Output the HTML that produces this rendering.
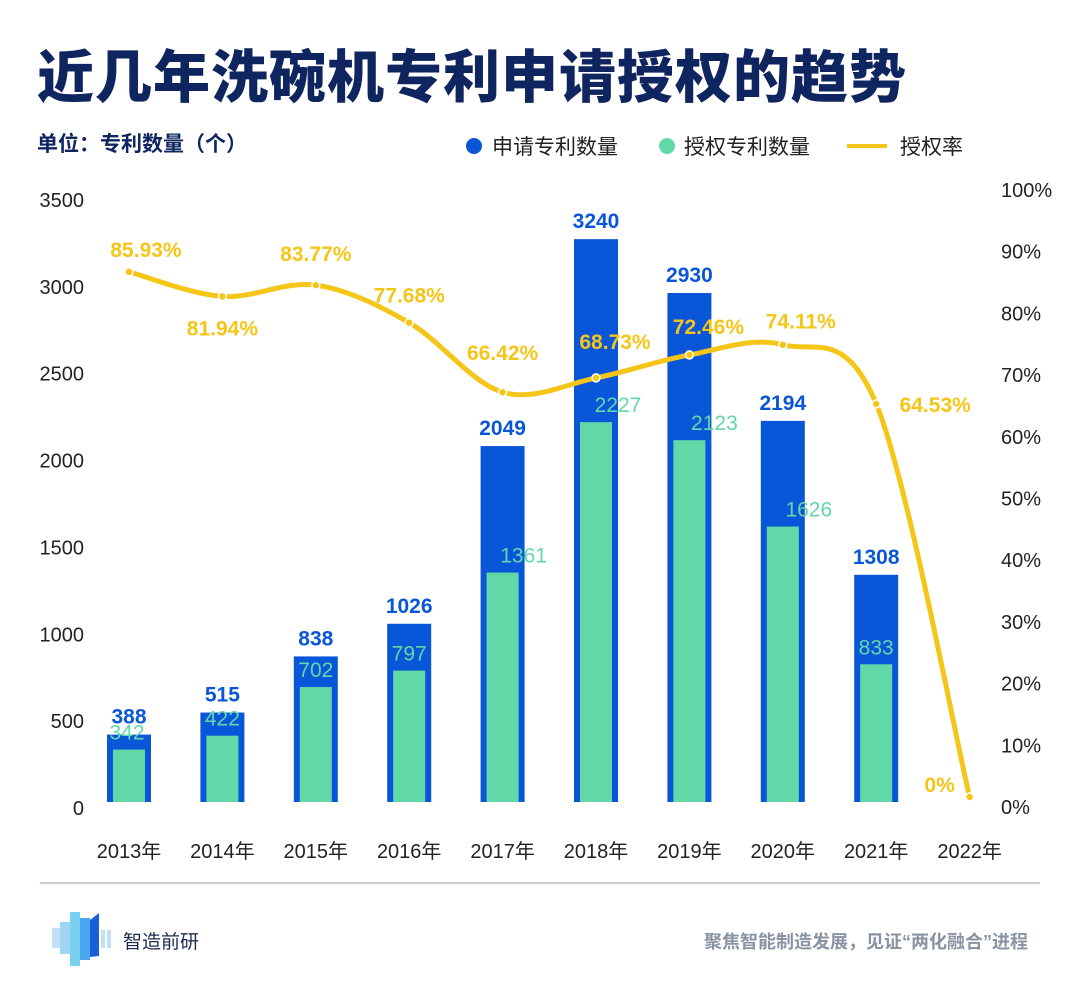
<!DOCTYPE html>
<html><head><meta charset="utf-8">
<style>
body{margin:0;background:#fff;}
#wrap{position:relative;width:1080px;height:1001px;overflow:hidden;font-family:"Liberation Sans","Noto Sans CJK SC",sans-serif;}
svg text{font-family:"Liberation Sans","Noto Sans CJK SC",sans-serif;}
</style></head>
<body>
<div id="wrap">
<svg id="chart" width="1080" height="1001">
  <text x="37" y="97" font-size="57" font-weight="900" fill="#0e2560" letter-spacing="1">近几年洗碗机专利申请授权的趋势</text>
  <text x="37" y="151" font-size="21" font-weight="bold" fill="#0e2560">单位：专利数量（个）</text>
  <g>
    <circle cx="474" cy="146" r="8" fill="#0a56d8"/>
    <text x="492" y="154" font-size="21" fill="#222">申请专利数量</text>
    <circle cx="667" cy="146" r="8" fill="#62d8a8"/>
    <text x="684" y="154" font-size="21" fill="#222">授权专利数量</text>
    <line x1="847" y1="146" x2="887" y2="146" stroke="#f5c518" stroke-width="4"/>
    <text x="900" y="154" font-size="21" fill="#222">授权率</text>
  </g>
  <g id="axes"></g>
  <g id="bars"></g>
  <g id="line"></g>
  <line x1="40" y1="883" x2="1040" y2="883" stroke="#c8ccd4" stroke-width="2"/>
  <g>
    <rect x="52" y="928" width="8" height="20" fill="#bfe0f5"/>
    <rect x="60" y="922" width="10" height="32" fill="#9fd6f2"/>
    <rect x="70" y="912" width="10" height="54" fill="#7ad0f2"/>
    <rect x="80" y="918" width="10" height="42" fill="#4aa8ee"/>
    <polygon points="90,920 99,913 99,956 90,957" fill="#1a5fd8"/>
    <rect x="101" y="930" width="4" height="18" fill="#bfe0f5"/>
    <rect x="107" y="930" width="4" height="18" fill="#bfe0f5"/>
    <text x="123" y="948" font-size="19" fill="#1b2a50">智造前研</text>
  </g>
  <text x="1028" y="948" font-size="18" font-weight="bold" fill="#8a93a6" text-anchor="end">聚焦智能制造发展，见证“两化融合”进程</text>
</svg>
</div>
<script>
const years = ["2013年","2014年","2015年","2016年","2017年","2018年","2019年","2020年","2021年","2022年"];
const applyCounts = [388,515,838,1026,2049,3240,2930,2194,1308,null];
const grantCounts = [342,422,702,797,1361,2227,2123,1626,833,null];
const grantRates = [85.93,81.94,83.77,77.68,66.42,68.73,72.46,74.11,64.53,0];
const rateLabels = ["85.93%","81.94%","83.77%","77.68%","66.42%","68.73%","72.46%","74.11%","64.53%","0%"];
const leftTicks = [0,500,1000,1500,2000,2500,3000,3500];
const rightTicks = [0,10,20,30,40,50,60,70,80,90,100];

const NS="http://www.w3.org/2000/svg";
const base=802;
const yL=v=>base-v*(608/3500);
const yR=v=>base-v*6.17;
const xC=i=>129+i*93.4;
function mk(tag,attrs,parent,text){const e=document.createElementNS(NS,tag);for(const k in attrs)e.setAttribute(k,attrs[k]);if(text!==undefined)e.textContent=text;parent.appendChild(e);return e;}
const axes=document.getElementById('axes'),bars=document.getElementById('bars'),line=document.getElementById('line');

leftTicks.forEach(v=>{const t=mk('text',{x:84,y:yL(v)+13,'font-size':20,fill:'#222','text-anchor':'end'},axes,String(v));

});
rightTicks.forEach(v=>{const t=mk('text',{x:1001,y:yR(v)+12,'font-size':20,fill:'#222'},axes,v+'%');

});
years.forEach((y,i)=>{const t=mk('text',{x:xC(i),y:858,'font-size':20,fill:'#222','text-anchor':'middle'},axes,y);

});

const grantLblDx=[-2,0,0,0,21,22,25,26,0];
applyCounts.forEach((v,i)=>{
  if(v==null)return;
  const x=xC(i);
  const b=mk('rect',{x:x-22,y:yL(v),width:44,height:base-yL(v),fill:'#0a56d8'},bars);
  
  
  const g=grantCounts[i];
  const gy=yL(g)+7;
  const gb=mk('rect',{x:x-16,y:gy,width:32,height:base-gy,fill:'#62d8a8'},bars);
  
  
  const t=mk('text',{x:x,y:yL(v)-11,'font-size':21,'font-weight':'bold',fill:'#0a56d8','text-anchor':'middle'},bars,String(v));
  
  
  const gt=mk('text',{x:x+grantLblDx[i],y:gy-10,'font-size':21,fill:'#62d8a8','text-anchor':'middle'},bars,String(g));
  
  
});

const pts=grantRates.map((r,i)=>[xC(i),Math.min(yR(r),797)]);
let d='M'+pts[0][0]+','+pts[0][1];
for(let i=0;i<pts.length-1;i++){
  const p0=pts[Math.max(i-1,0)],p1=pts[i],p2=pts[i+1],p3=pts[Math.min(i+2,pts.length-1)];
  const c1=[p1[0]+(p2[0]-p0[0])/6,p1[1]+(p2[1]-p0[1])/6];
  const c2=[p2[0]-(p3[0]-p1[0])/6,p2[1]-(p3[1]-p1[1])/6];
  d+=' C'+c1[0]+','+c1[1]+' '+c2[0]+','+c2[1]+' '+p2[0]+','+p2[1];
}
const path=mk('path',{d:d,fill:'none',stroke:'#f5c518','stroke-width':5},line);


const lblOff=[[17,-15],[0,39],[0,-24],[0,-20],[0,-32],[19,-29],[19,-21],[18,-16],[59,8],[-30,-5]];
pts.forEach((p,i)=>{
  const c=mk('circle',{cx:p[0],cy:p[1],r:4,fill:'#f5c518',stroke:'#fff','stroke-width':1.5},line);
  
  
  const t=mk('text',{x:p[0]+lblOff[i][0],y:p[1]+lblOff[i][1],'font-size':21,'font-weight':'bold',fill:'#f5c518','text-anchor':'middle'},line,rateLabels[i]);
  
  
});
</script>
</body></html>
